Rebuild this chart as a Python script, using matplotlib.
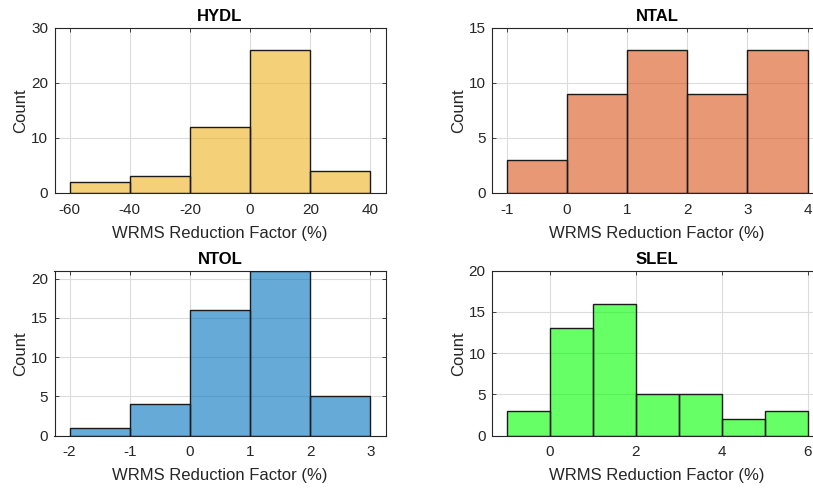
import numpy as np
import matplotlib
matplotlib.use("Agg")
import matplotlib.pyplot as plt

plt.rcParams['font.family'] = ['Liberation Sans', 'DejaVu Sans']
plt.rcParams['axes.unicode_minus'] = False

# Data
hydl_edges = [-60, -40, -20, 0, 20, 40]
hydl_counts = [2, 3, 12, 26, 4]
ntal_edges = [-1, 0, 1, 2, 3, 4]
ntal_counts = [3, 9, 13, 9, 13]
ntol_edges = [-2, -1, 0, 1, 2, 3]
ntol_counts = [1, 4, 16, 21, 5]
slel_edges = [-1, 0, 1, 2, 3, 4, 5, 6]
slel_counts = [3, 13, 16, 5, 5, 2, 3]

titles = ["HYDL", "NTAL", "NTOL", "SLEL"]
colors = [(0.929, 0.694, 0.125), (0.850, 0.325, 0.098), (0.0, 0.447, 0.741), (0.0, 1.0, 0.0)]
xlims = [(-65, 45), (-1.25, 4.25), (-2.25, 3.25), (-1.35, 6.35)]
ylims = [(0, 30), (0, 15), (0, 21), (0, 20)]
xticks = [[-60, -40, -20, 0, 20, 40], [-1, 0, 1, 2, 3, 4], [-2, -1, 0, 1, 2, 3], [0, 2, 4, 6]]
yticks = [[0, 10, 20, 30], [0, 5, 10, 15], [0, 5, 10, 15, 20], [0, 5, 10, 15, 20]]
data = [(hydl_edges, hydl_counts), (ntal_edges, ntal_counts),
        (ntol_edges, ntol_counts), (slel_edges, slel_counts)]

W, H = 813, 488
fig = plt.figure(figsize=(W / 100, H / 100), dpi=100)
# axes boxes in pixels: left, top, width, height
boxes = [(54.5, 27.5, 331, 165.5), (491.7, 27.5, 331, 165.5),
         (54.5, 270.7, 331, 165), (491.7, 270.7, 331, 165)]
txt = '#262626'
for i in range(4):
    l, t, w, h = boxes[i]
    ax = fig.add_axes([l / W, 1 - (t + h) / H, w / W, h / H])
    edges, counts = data[i]
    edges = np.array(edges, dtype=float)
    ax.bar(edges[:-1], counts, width=np.diff(edges), align='edge',
           color=colors[i], alpha=0.6, edgecolor='none', zorder=2)
    ax.bar(edges[:-1], counts, width=np.diff(edges), align='edge',
           facecolor='none', edgecolor='#1a1a1a', linewidth=1.0, zorder=3)
    ax.set_xlim(*xlims[i])
    ax.set_ylim(*ylims[i])
    ax.set_xticks(xticks[i])
    ax.set_yticks(yticks[i])
    ax.grid(True, color='#dcdcdc', linewidth=0.8, zorder=0)
    ax.set_axisbelow(True)
    ax.tick_params(direction='in', top=True, right=True, length=3,
                   labelsize=11, colors=txt, width=0.6)
    ax.tick_params(axis='x', pad=7)
    ax.tick_params(axis='y', pad=4.5)
    for s in ax.spines.values():
        s.set_color(txt)
        s.set_linewidth(0.8)
    ax.set_title(titles[i], fontsize=12, fontweight='bold', color='#000000', pad=5)
    ax.set_xlabel("WRMS Reduction Factor (%)", fontsize=12, color=txt, labelpad=6.5)
    ax.set_ylabel("Count", fontsize=12, color=txt, labelpad=2)

fig.savefig("out.png", dpi=100)
